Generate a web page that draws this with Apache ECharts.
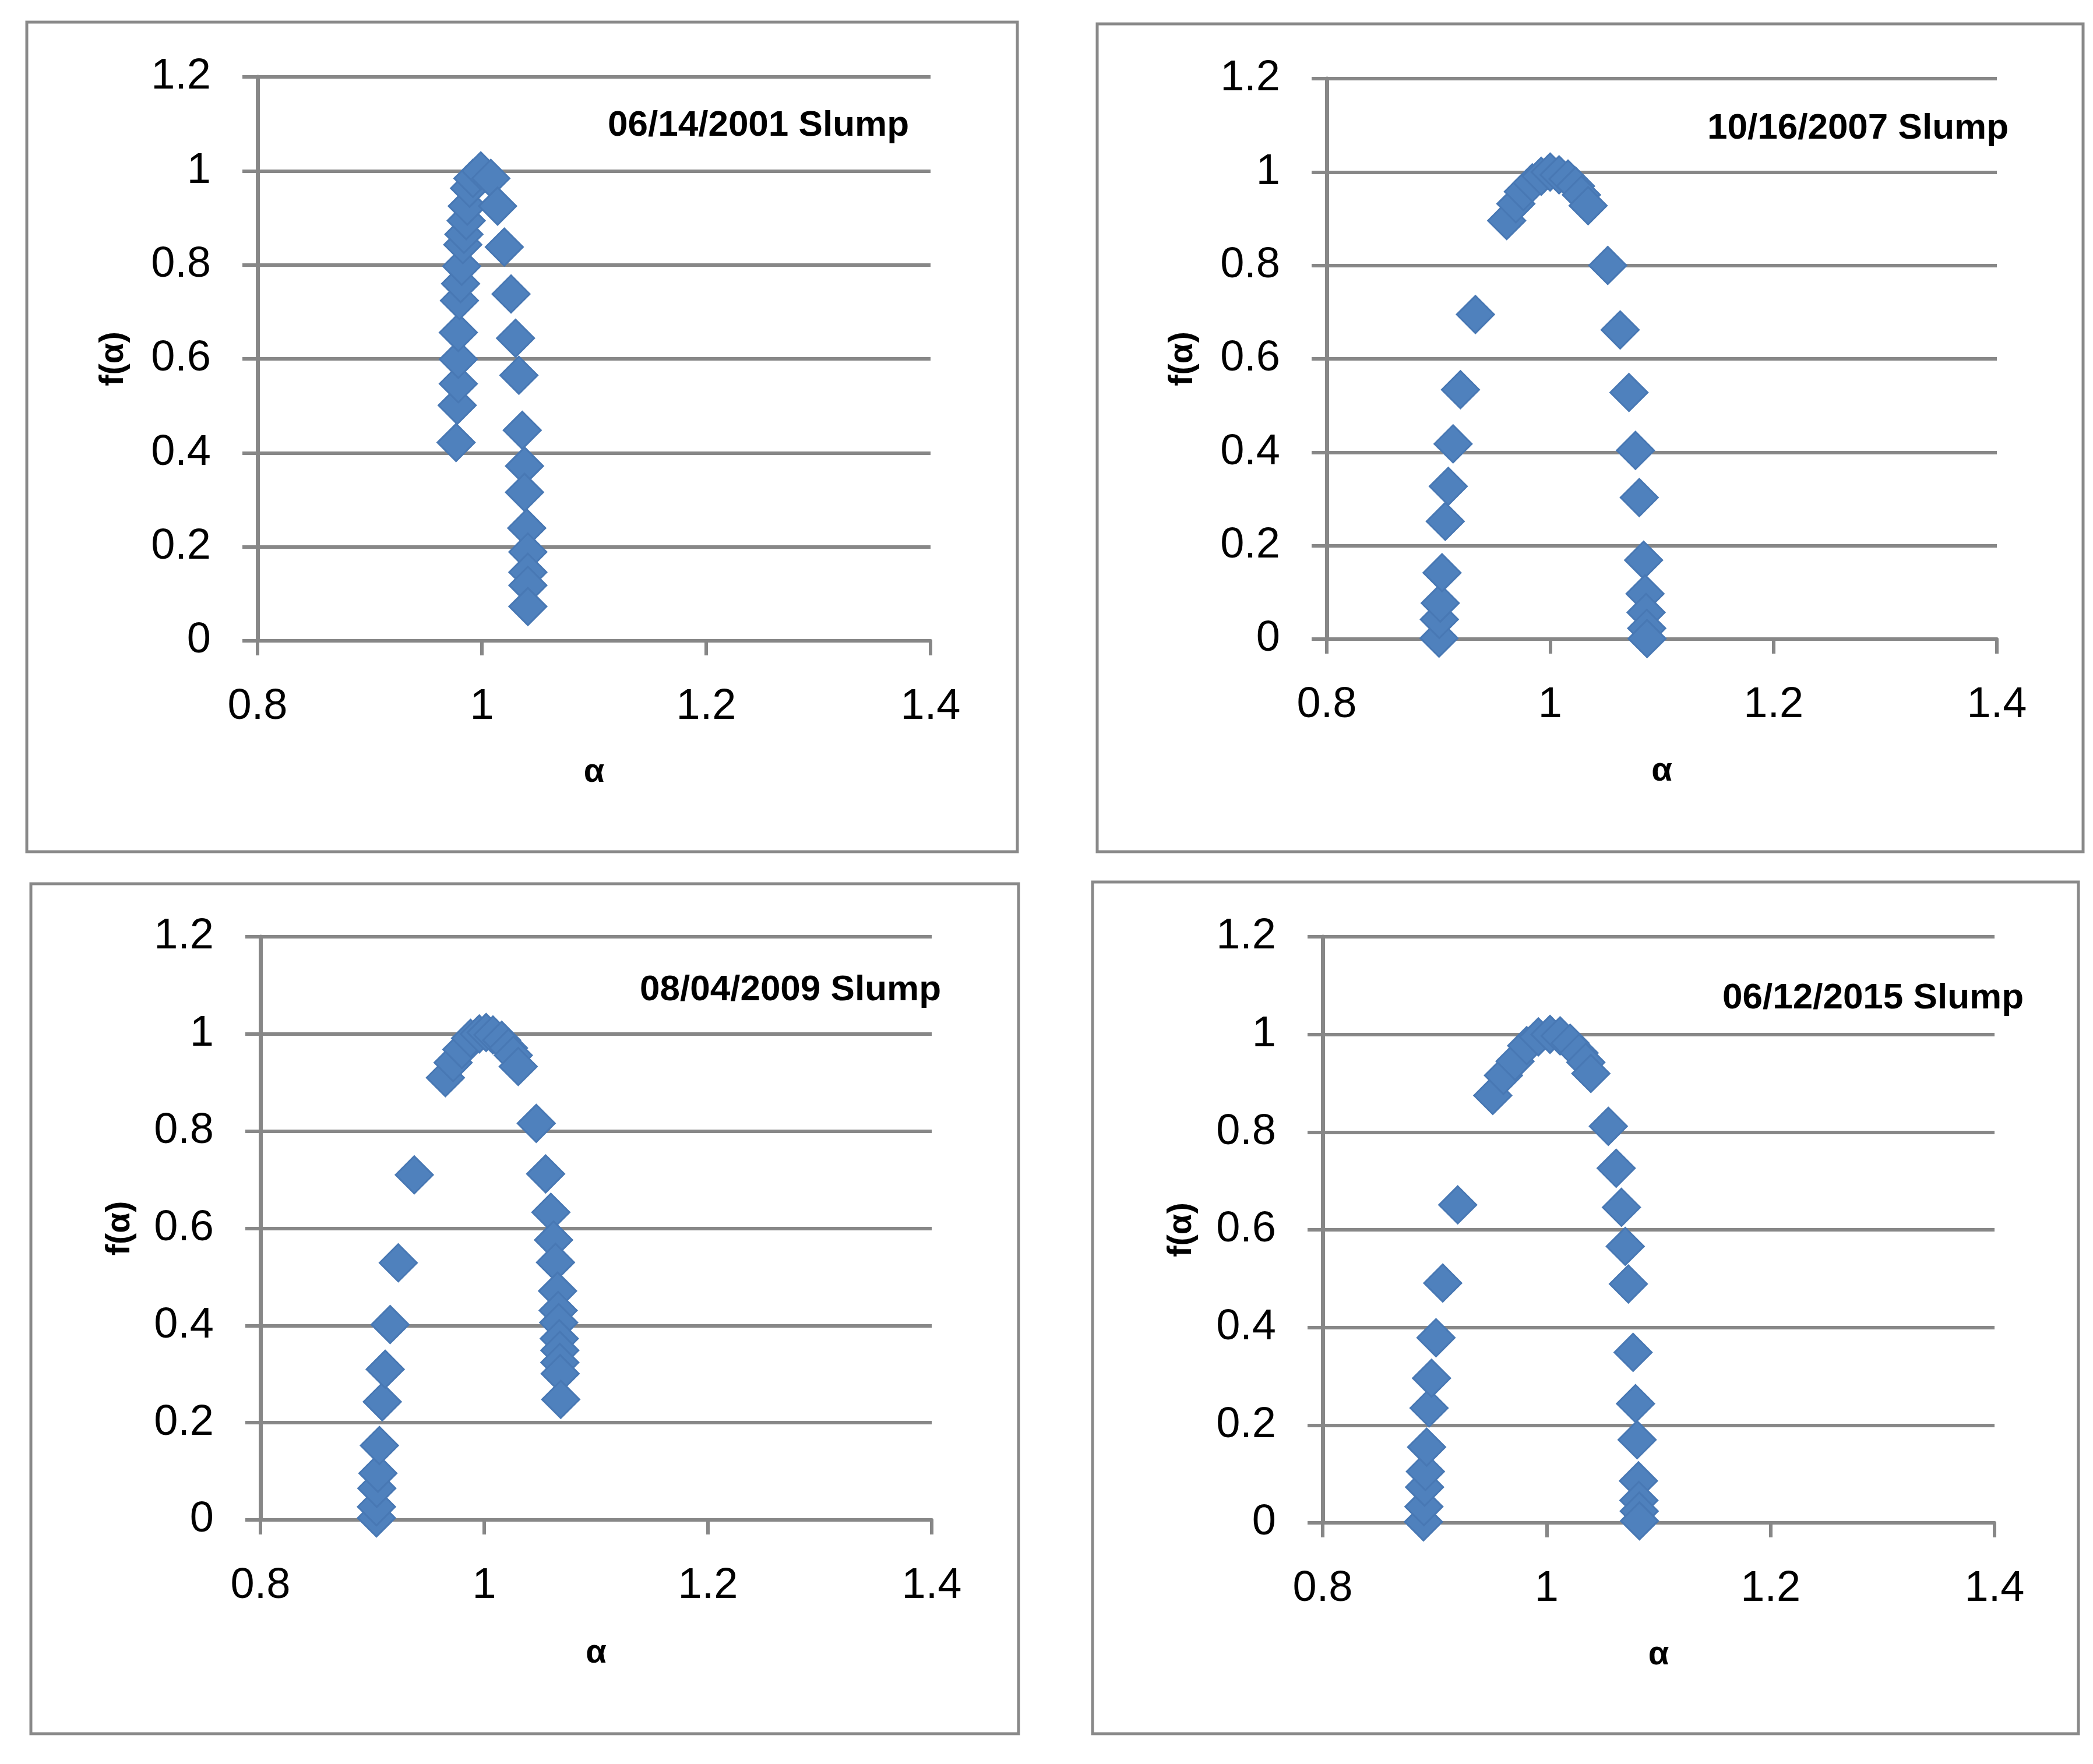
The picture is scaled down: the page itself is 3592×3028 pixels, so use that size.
<!DOCTYPE html>
<html>
<head>
<meta charset="utf-8">
<script src="https://cdn.jsdelivr.net/npm/echarts@6/dist/echarts.min.js"></script>
<style>
  html, body { margin: 0; padding: 0; background: #fff; }
  #chart { width: 3592px; height: 3028px; }
</style>
</head>
<body>
<div id="chart"></div>
<script>
// panel titles
var titles = ['06/14/2001 Slump', '10/16/2007 Slump', '08/04/2009 Slump', '06/12/2015 Slump'];

// axis ticks
var xTicks = [0.8, 1, 1.2, 1.4];
var yTicks = [0, 0.2, 0.4, 0.6, 0.8, 1, 1.2];

// 06/14/2001
var alpha2001 = [0.977, 0.978, 0.979, 0.979, 0.979, 0.980, 0.981, 0.982, 0.983, 0.984, 0.986, 0.987, 0.989, 0.992, 0.999,
                 1.008, 1.014, 1.020, 1.026, 1.030, 1.033, 1.036, 1.038, 1.038, 1.040, 1.041, 1.041, 1.041, 1.041];
var f2001 = [0.422, 0.501, 0.547, 0.599, 0.656, 0.724, 0.760, 0.797, 0.843, 0.865, 0.894, 0.925, 0.963, 0.984, 1.000,
             0.984, 0.925, 0.838, 0.738, 0.644, 0.565, 0.448, 0.372, 0.316, 0.240, 0.189, 0.146, 0.118, 0.073];

// 10/16/2007
var alpha2007 = [0.9005, 0.9008, 0.9016, 0.9032, 0.9061, 0.9088, 0.9131, 0.9197, 0.9331, 0.9611, 0.9693, 0.976, 0.984, 0.992, 1.000,
                 1.008, 1.016, 1.0227, 1.028, 1.034, 1.0516, 1.0627, 1.0706, 1.0764, 1.0798, 1.0837, 1.085, 1.0859, 1.0865, 1.0868];
var f2007 = [0.002, 0.042, 0.077, 0.142, 0.252, 0.327, 0.418, 0.534, 0.695, 0.896, 0.932, 0.958, 0.977, 0.991, 1.000,
             0.994, 0.985, 0.970, 0.951, 0.928, 0.800, 0.662, 0.528, 0.404, 0.303, 0.169, 0.097, 0.057, 0.023, 0.001];

// 08/04/2009
var alpha2009 = [0.9037, 0.9037, 0.9040, 0.9050, 0.9063, 0.9089, 0.9115, 0.9159, 0.9232, 0.9375, 0.9653, 0.9722, 0.980, 0.9878, 0.9956, 1.0017,
                 1.0078, 1.0156, 1.0217, 1.026, 1.0304, 1.0465, 1.0549, 1.0596, 1.062, 1.0637, 1.0656, 1.0661, 1.0666, 1.0671, 1.0676, 1.0676, 1.0679, 1.0684];
var f2009 = [0.004, 0.027, 0.065, 0.096, 0.153, 0.243, 0.310, 0.402, 0.529, 0.710, 0.910, 0.941, 0.968, 0.991, 1.000, 1.003,
             0.998, 0.987, 0.971, 0.956, 0.933, 0.816, 0.712, 0.633, 0.576, 0.530, 0.471, 0.431, 0.406, 0.373, 0.349, 0.324, 0.301, 0.248];

// 06/12/2015
var alpha2015 = [0.890, 0.8904, 0.891, 0.8917, 0.8928, 0.895, 0.8972, 0.9012, 0.9072, 0.9206, 0.9519, 0.9614, 0.9718, 0.9822, 0.9926, 1.003,
                 1.012, 1.021, 1.029, 1.035, 1.0395, 1.0551, 1.0621, 1.0668, 1.0702, 1.073, 1.0772, 1.0794, 1.0808, 1.082, 1.0824, 1.0827, 1.0829];
var f2015 = [0.002, 0.033, 0.073, 0.105, 0.155, 0.235, 0.296, 0.379, 0.491, 0.651, 0.875, 0.916, 0.945, 0.977, 0.995, 1.000,
             0.997, 0.982, 0.962, 0.943, 0.920, 0.812, 0.726, 0.646, 0.566, 0.489, 0.349, 0.244, 0.170, 0.086, 0.046, 0.024, 0.004];

var alphas = [alpha2001, alpha2007, alpha2009, alpha2015];
var fs = [f2001, f2007, f2009, f2015];

// layout of the four panels (pixels)
var grids = [
  { left: 442, top: 132, width: 1155, height: 968 },
  { left: 2277, top: 135, width: 1150, height: 962 },
  { left: 447, top: 1608, width: 1152, height: 1001 },
  { left: 2270, top: 1608, width: 1153, height: 1006 }
];
var frames = [
  [46, 38, 1700, 1424],
  [1883, 41, 1692, 1421],
  [53, 1517, 1695, 1459],
  [1875, 1514, 1692, 1462]
];
var titlePos = [[1560, 216], [3447, 221], [1615, 1700], [3473, 1714]];
var yNameGap = [218, 218, 212, 213];
var xNameGap = [197, 198, 200, 198];

var gray = '#878787';
var font = 'Liberation Sans';

var chart = echarts.init(document.getElementById('chart'), null, { renderer: 'canvas' });

var option = {
  backgroundColor: '#ffffff',
  animation: false,
  grid: [],
  xAxis: [],
  yAxis: [],
  series: [],
  graphic: []
};

for (var i = 0; i < 4; i++) {
  option.grid.push({ left: grids[i].left, top: grids[i].top, width: grids[i].width, height: grids[i].height, containLabel: false });

  option.xAxis.push({
    type: 'value', gridIndex: i,
    min: xTicks[0], max: xTicks[xTicks.length - 1], interval: 0.2,
    name: 'α', nameLocation: 'middle', nameGap: xNameGap[i],
    nameTextStyle: { fontFamily: font, fontWeight: 'bold', fontSize: 58, color: '#000' },
    axisLine: { show: true, onZero: false, lineStyle: { color: gray, width: 6 } },
    axisTick: { show: true, length: 25, lineStyle: { color: gray, width: 6 } },
    axisLabel: { fontFamily: font, fontSize: 74, color: '#000', margin: 77 },
    splitLine: { show: false }
  });

  option.yAxis.push({
    type: 'value', gridIndex: i,
    min: yTicks[0], max: yTicks[yTicks.length - 1], interval: 0.2,
    name: 'f(α)', nameLocation: 'middle', nameGap: yNameGap[i],
    nameTextStyle: { fontFamily: font, fontWeight: 'bold', fontSize: 58, color: '#000' },
    axisLine: { show: true, lineStyle: { color: gray, width: 7 } },
    axisTick: { show: true, length: 26, lineStyle: { color: gray, width: 6 } },
    axisLabel: { fontFamily: font, fontSize: 74, color: '#000', margin: 80 },
    splitLine: { show: true, lineStyle: { color: gray, width: 6 } }
  });

  var pts = [];
  for (var k = 0; k < alphas[i].length; k++) {
    pts.push([alphas[i][k], fs[i][k]]);
  }
  option.series.push({
    type: 'scatter', xAxisIndex: i, yAxisIndex: i,
    symbol: 'diamond', symbolSize: 64,
    itemStyle: { color: '#4F81BD', borderColor: '#4878B4', borderWidth: 3, opacity: 1 },
    data: pts
  });

  option.graphic.push({
    type: 'rect', z: -1,
    shape: { x: frames[i][0], y: frames[i][1], width: frames[i][2], height: frames[i][3] },
    style: { fill: 'none', stroke: '#898989', lineWidth: 5 }
  });
  option.graphic.push({
    type: 'text', z: 10,
    style: {
      text: titles[i], x: titlePos[i][0], y: titlePos[i][1],
      textAlign: 'right', textVerticalAlign: 'middle',
      font: 'bold 62px "Liberation Sans"', fill: '#000'
    }
  });
}

chart.setOption(option);
</script>
</body>
</html>
